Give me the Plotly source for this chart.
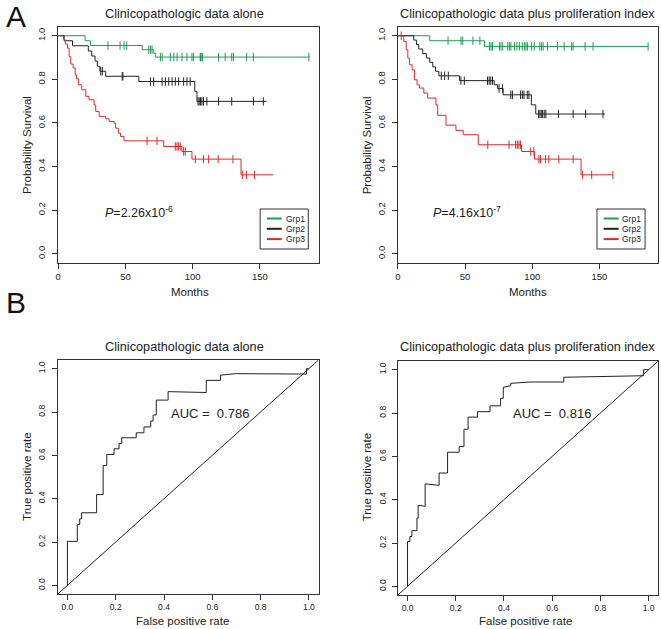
import numpy as np
import plotly.graph_objects as go

W, H = 661, 629
FONT = "Liberation Sans, Arial, Helvetica, sans-serif"
GREEN = "#1f9d55"
BLACK = "#222222"
RED = "#dd2a2a"

# ---------------- Kaplan-Meier data: clinicopathologic data alone ----------------
alone_g1_step_t = [20, 24, 62.5, 71, 72.5]
alone_g1_step_s = [0.977, 0.955, 0.936, 0.92, 0.902]
alone_g1_end = 187
alone_g1_cens = [37, 46, 49, 51, 67.4, 68.6, 69.8, 76, 77.3, 83.4, 86, 88.4, 92.1, 95.8, 99.5,
                 100.7, 105.6, 106, 106.9, 107.4, 119.3, 124.2, 129.1, 130.4, 140.2, 145.2, 186.5]

alone_g2_step_t = [4.4, 10.6, 22.4, 24.9, 27.4, 29.1, 31, 35.3, 60, 101.6, 103.2]
alone_g2_step_s = [0.977, 0.954, 0.93, 0.907, 0.884, 0.86, 0.837, 0.814, 0.79, 0.745, 0.699]
alone_g2_end = 155
alone_g2_cens = [31.6, 32.8, 47.6, 48.1, 68.6, 71, 77.3, 79.7, 82.2, 84.7, 87.1, 89.6, 93.3, 95.8,
                 98.2, 104, 104.9, 105.9, 106.9, 108.1, 110.6, 119.3, 129.1, 145.2, 152.6]

alone_g3_step_t = [3.9, 5.2, 6.9, 8.1, 9.3, 11.1, 12.6, 13.6, 15, 17.5, 20.5, 22.9, 26.7, 27.9,
                   30.4, 35.3, 37.8, 41.5, 42.7, 44.7, 46.4, 48.9, 78.5, 92, 99.5, 136]
alone_g3_step_s = [0.982, 0.962, 0.943, 0.905, 0.870, 0.852, 0.821, 0.803, 0.775, 0.752, 0.722,
                   0.706, 0.683, 0.653, 0.630, 0.619, 0.607, 0.599, 0.576, 0.553, 0.538, 0.518,
                   0.492, 0.469, 0.434, 0.362]
alone_g3_end = 160
alone_g3_cens = [66.1, 73.5, 87.1, 88.4, 89.6, 90.8, 93.3, 94.5, 102, 108, 111.9, 119, 130, 137, 140, 146]

# ---------------- Kaplan-Meier data: plus proliferation index ----------------
plus_g1_step_t = [23.7, 64.4]
plus_g1_step_s = [0.977, 0.951]
plus_g1_end = 186.2
plus_g1_cens = [37.3, 47, 48.3, 55.8, 61, 68.1, 69.3, 70.4, 75.5, 76.7, 78, 81.7, 83, 84.1, 86.7,
                88.5, 90.4, 92.5, 94.1, 95.3, 96.5, 99.5, 101.5, 105.6, 106.9, 108.1, 111.3,
                118.7, 123.7, 129.3, 130.4, 139.3, 145.2, 186.2]

plus_g2_step_t = [11.8, 13.8, 15.5, 18.5, 21.2, 23.7, 26, 28, 30.5, 45.8, 71.7, 74.2, 78.3, 99.3, 102.6]
plus_g2_step_s = [0.98, 0.959, 0.939, 0.918, 0.898, 0.878, 0.857, 0.837, 0.816, 0.794, 0.775,
                  0.758, 0.729, 0.683, 0.641]
plus_g2_end = 154
plus_g2_cens = [32.3, 34.8, 37.5, 46.9, 49.4, 66.7, 67.9, 69.1, 70.4, 75.3, 77.8, 84, 85.2, 91.3,
                92.6, 93.8, 96.3, 97.5, 104.7, 105.7, 106.7, 107.7, 108.9, 110.1, 119.5, 130.4,
                139.7, 152.6]

plus_g3_step_t = [4.4, 6.2, 7.4, 8.6, 10.6, 12.3, 14.3, 16, 19.3, 22.2, 28.3, 29.6, 35.8, 43.2,
                  48.6, 59.8, 92, 101.7, 136.3]
plus_g3_step_s = [0.974, 0.936, 0.897, 0.867, 0.844, 0.798, 0.775, 0.760, 0.737, 0.714, 0.683,
                  0.635, 0.59, 0.566, 0.546, 0.50, 0.469, 0.434, 0.362]
plus_g3_end = 160
plus_g3_cens = [2.5, 66.9, 82.7, 87.6, 88.9, 90.1, 91.3, 98.8, 101.2, 104.9, 106.1, 109.8, 112.3,
                119.7, 130.4, 137.5, 144.2, 160]

# ---------------- ROC data ----------------
roc_alone_fpr = [0, 0, 0.041, 0.041, 0.051, 0.051, 0.059, 0.059, 0.121, 0.121, 0.148, 0.148,
                 0.163, 0.163, 0.193, 0.193, 0.214, 0.214, 0.225, 0.225, 0.285, 0.285, 0.317,
                 0.317, 0.345, 0.345, 0.355, 0.355, 0.368, 0.368, 0.417, 0.417, 0.575, 0.575,
                 0.634, 0.634, 0.696, 0.99, 0.99, 1.0]
roc_alone_tpr = [0, 0.203, 0.203, 0.281, 0.281, 0.307, 0.307, 0.335, 0.335, 0.419, 0.419, 0.553,
                 0.553, 0.604, 0.604, 0.630, 0.630, 0.654, 0.654, 0.681, 0.681, 0.704, 0.704,
                 0.731, 0.731, 0.758, 0.758, 0.786, 0.786, 0.855, 0.855, 0.894, 0.890, 0.946,
                 0.946, 0.970, 0.977, 0.975, 1.0, 1.0]

roc_plus_fpr = [0, 0, 0.0097, 0.0097, 0.018, 0.018, 0.039, 0.039, 0.044, 0.044, 0.055, 0.073,
                0.073, 0.131, 0.131, 0.166, 0.166, 0.214, 0.214, 0.234, 0.234, 0.251, 0.251,
                0.290, 0.290, 0.342, 0.342, 0.386, 0.386, 0.397, 0.397, 0.428, 0.428, 0.51,
                0.51, 0.648, 0.648, 0.979, 0.979, 1.0]
roc_plus_tpr = [0, 0.207, 0.207, 0.230, 0.230, 0.257, 0.257, 0.315, 0.315, 0.373, 0.373, 0.369,
                0.473, 0.466, 0.523, 0.523, 0.619, 0.619, 0.645, 0.645, 0.725, 0.725, 0.781,
                0.781, 0.806, 0.806, 0.833, 0.833, 0.868, 0.868, 0.919, 0.925, 0.937, 0.940,
                0.943, 0.943, 0.965, 0.972, 1.0, 1.0]

# ---------------- text ----------------
titles = ["Clinicopathologic data alone", "Clinicopathologic data plus proliferation index",
          "Clinicopathologic data alone", "Clinicopathologic data plus proliferation index"]
p_values = ["<i>P</i>=2.26x10<sup>-6</sup>", "<i>P</i>=4.16x10<sup>-7</sup>"]
auc_labels = ["AUC = \u00a00.786", "AUC = \u00a00.816"]
groups = ["Grp1", "Grp2", "Grp3"]
km_xticks = [0, 50, 100, 150]
unit_ticks = [0, 0.2, 0.4, 0.6, 0.8, 1.0]


def px(x):
    return x / W


def py(y):
    return 1 - y / H


fig = go.Figure()


def km(step_t, step_s, end_t, cens, color, xa, ya):
    xs = [0] + list(step_t) + [end_t]
    ys = [1.0] + list(step_s) + [step_s[-1]]
    fig.add_trace(go.Scatter(x=xs, y=ys, mode="lines", xaxis=xa, yaxis=ya,
                             line=dict(color=color, width=1, shape="hv"),
                             showlegend=False, hoverinfo="skip"))
    st = np.array(step_t)
    ss = np.array(step_s)
    c = np.array(cens, dtype=float)
    idx = np.searchsorted(st, c, side="right")
    cy = np.where(idx == 0, 1.0, ss[np.maximum(idx - 1, 0)])
    fig.add_trace(go.Scatter(x=c, y=cy, mode="markers", xaxis=xa, yaxis=ya,
                             marker=dict(symbol="line-ns", size=6,
                                         line=dict(color=color, width=1)),
                             showlegend=False, hoverinfo="skip"))


km(alone_g1_step_t, alone_g1_step_s, alone_g1_end, alone_g1_cens, GREEN, "x", "y")
km(alone_g2_step_t, alone_g2_step_s, alone_g2_end, alone_g2_cens, BLACK, "x", "y")
km(alone_g3_step_t, alone_g3_step_s, alone_g3_end, alone_g3_cens, RED, "x", "y")
km(plus_g1_step_t, plus_g1_step_s, plus_g1_end, plus_g1_cens, GREEN, "x2", "y2")
km(plus_g2_step_t, plus_g2_step_s, plus_g2_end, plus_g2_cens, BLACK, "x2", "y2")
km(plus_g3_step_t, plus_g3_step_s, plus_g3_end, plus_g3_cens, RED, "x2", "y2")

for fpr, tpr, xa, ya in [(roc_alone_fpr, roc_alone_tpr, "x3", "y3"),
                         (roc_plus_fpr, roc_plus_tpr, "x4", "y4")]:
    fig.add_trace(go.Scatter(x=fpr, y=tpr, mode="lines", xaxis=xa, yaxis=ya,
                             line=dict(color=BLACK, width=1), showlegend=False, hoverinfo="skip"))
    fig.add_trace(go.Scatter(x=[-0.04, 1.04], y=[-0.04, 1.04], mode="lines", xaxis=xa, yaxis=ya,
                             line=dict(color=BLACK, width=1), showlegend=False, hoverinfo="skip"))

common = dict(showline=True, linecolor="#333", linewidth=1, mirror=True, ticks="outside",
              ticklen=5, tickwidth=1, tickcolor="#333", showgrid=False, zeroline=False)

panels = {
    "A1": dict(x=(55.5, 317), y=(27, 262.5)),
    "A2": dict(x=(396.7, 658.3), y=(27, 262.5)),
    "B1": dict(x=(55, 317), y=(360, 594)),
    "B2": dict(x=(396.7, 658.3), y=(361, 595)),
}

layout_axes = {}
names = ["A1", "A2", "B1", "B2"]
for i, nm in enumerate(names):
    p = panels[nm]
    sfx = "" if i == 0 else str(i + 1)
    is_km = nm.startswith("A")
    fs = 9.5 if is_km else 8.5
    xa = dict(common, domain=[px(p["x"][0]), px(p["x"][1])], anchor="y" + sfx,
              tickfont=dict(family=FONT, size=fs, color="#222"))
    if is_km:
        xa.update(range=[0, (p["x"][1] - p["x"][0]) / 1.35], tickvals=km_xticks)
    else:
        xa.update(range=[-0.04, 1.04], tickvals=unit_ticks,
                  ticktext=[f"{v:.1f}" for v in unit_ticks])
    ya = dict(common, domain=[py(p["y"][1]), py(p["y"][0])], anchor="x" + sfx,
              range=[-0.04, 1.04], tickvals=unit_ticks,
              ticktext=[f"{v:.1f}" for v in unit_ticks], tickangle=-90,
              ticklabelstandoff=3,
              tickfont=dict(family=FONT, size=fs, color="#222"))
    layout_axes["xaxis" + sfx] = xa
    layout_axes["yaxis" + sfx] = ya

ann = []
tfont = dict(family=FONT, size=12.7, color="#222")
lfont = dict(family=FONT, size=11.5, color="#222")

# panel letters
ann.append(dict(x=px(1), y=py(16), text="A", showarrow=False, xanchor="left", yanchor="middle",
                font=dict(family=FONT, size=30, color="#111")))
ann.append(dict(x=px(1), y=py(302), text="B", showarrow=False, xanchor="left", yanchor="middle",
                font=dict(family=FONT, size=30, color="#111")))

# titles
title_pos = [(182, 14), (527, 14), (182, 347), (527, 347)]
for t, (x, y) in zip(titles, title_pos):
    ann.append(dict(x=px(x), y=py(y), text=t, showarrow=False, xanchor="center",
                    yanchor="middle", font=tfont))

# axis labels
for x in (188, 527):
    ann.append(dict(x=px(x), y=py(292), text="Months", showarrow=False, xanchor="center",
                    yanchor="middle", font=lfont))
for x in (180, 525):
    ann.append(dict(x=px(x), y=py(621), text="False positive rate", showarrow=False,
                    xanchor="center", yanchor="middle", font=lfont))
for x in (24, 366):
    ann.append(dict(x=px(x), y=py(145), text="Probability Survival", showarrow=False,
                    textangle=-90, xanchor="center", yanchor="middle", font=lfont))
    ann.append(dict(x=px(x), y=py(477), text="True positive rate", showarrow=False,
                    textangle=-90, xanchor="center", yanchor="middle", font=lfont))

# P values
for t, x in zip(p_values, (100, 430)):
    ann.append(dict(x=px(x), y=py(212), text=t, showarrow=False, xanchor="left",
                    yanchor="middle", font=dict(family=FONT, size=12.5, color="#222")))

# AUC
for t, x in zip(auc_labels, (166.5, 510)):
    ann.append(dict(x=px(x), y=py(413), text=t, showarrow=False, xanchor="left",
                    yanchor="middle", font=dict(family=FONT, size=13, color="#222")))

# legends (drawn as annotations + shapes)
shapes = []
leg_boxes = [(258.3, 306.7, 209, 249), (596.7, 645, 209, 249)]
for (x0, x1, y0, y1) in leg_boxes:
    shapes.append(dict(type="rect", xref="paper", yref="paper", x0=px(x0), x1=px(x1),
                       y0=py(y1), y1=py(y0), line=dict(color="#333", width=1)))
    rows = [y0 + 9.5, y0 + 19.8, y0 + 30.1]
    for g, c, ry in zip(groups, (GREEN, BLACK, RED), rows):
        shapes.append(dict(type="line", xref="paper", yref="paper", x0=px(x0 + 6.7),
                           x1=px(x0 + 21.7), y0=py(ry), y1=py(ry), line=dict(color=c, width=2)))
        ann.append(dict(x=px(x0 + 24.5), y=py(ry), text=g, showarrow=False, xanchor="left",
                        yanchor="middle", borderpad=0,
                        font=dict(family=FONT, size=8.5, color="#222")))

for a in ann:
    a.setdefault("xref", "paper")
    a.setdefault("yref", "paper")

fig.update_layout(width=W, height=H, margin=dict(l=0, r=0, t=0, b=0),
                  paper_bgcolor="white", plot_bgcolor="white", showlegend=False,
                  annotations=ann, shapes=shapes, **layout_axes)

fig.write_html("out.html", config={"displayModeBar": False},
               post_script="document.body.style.margin='0';document.body.style.padding='0';")
